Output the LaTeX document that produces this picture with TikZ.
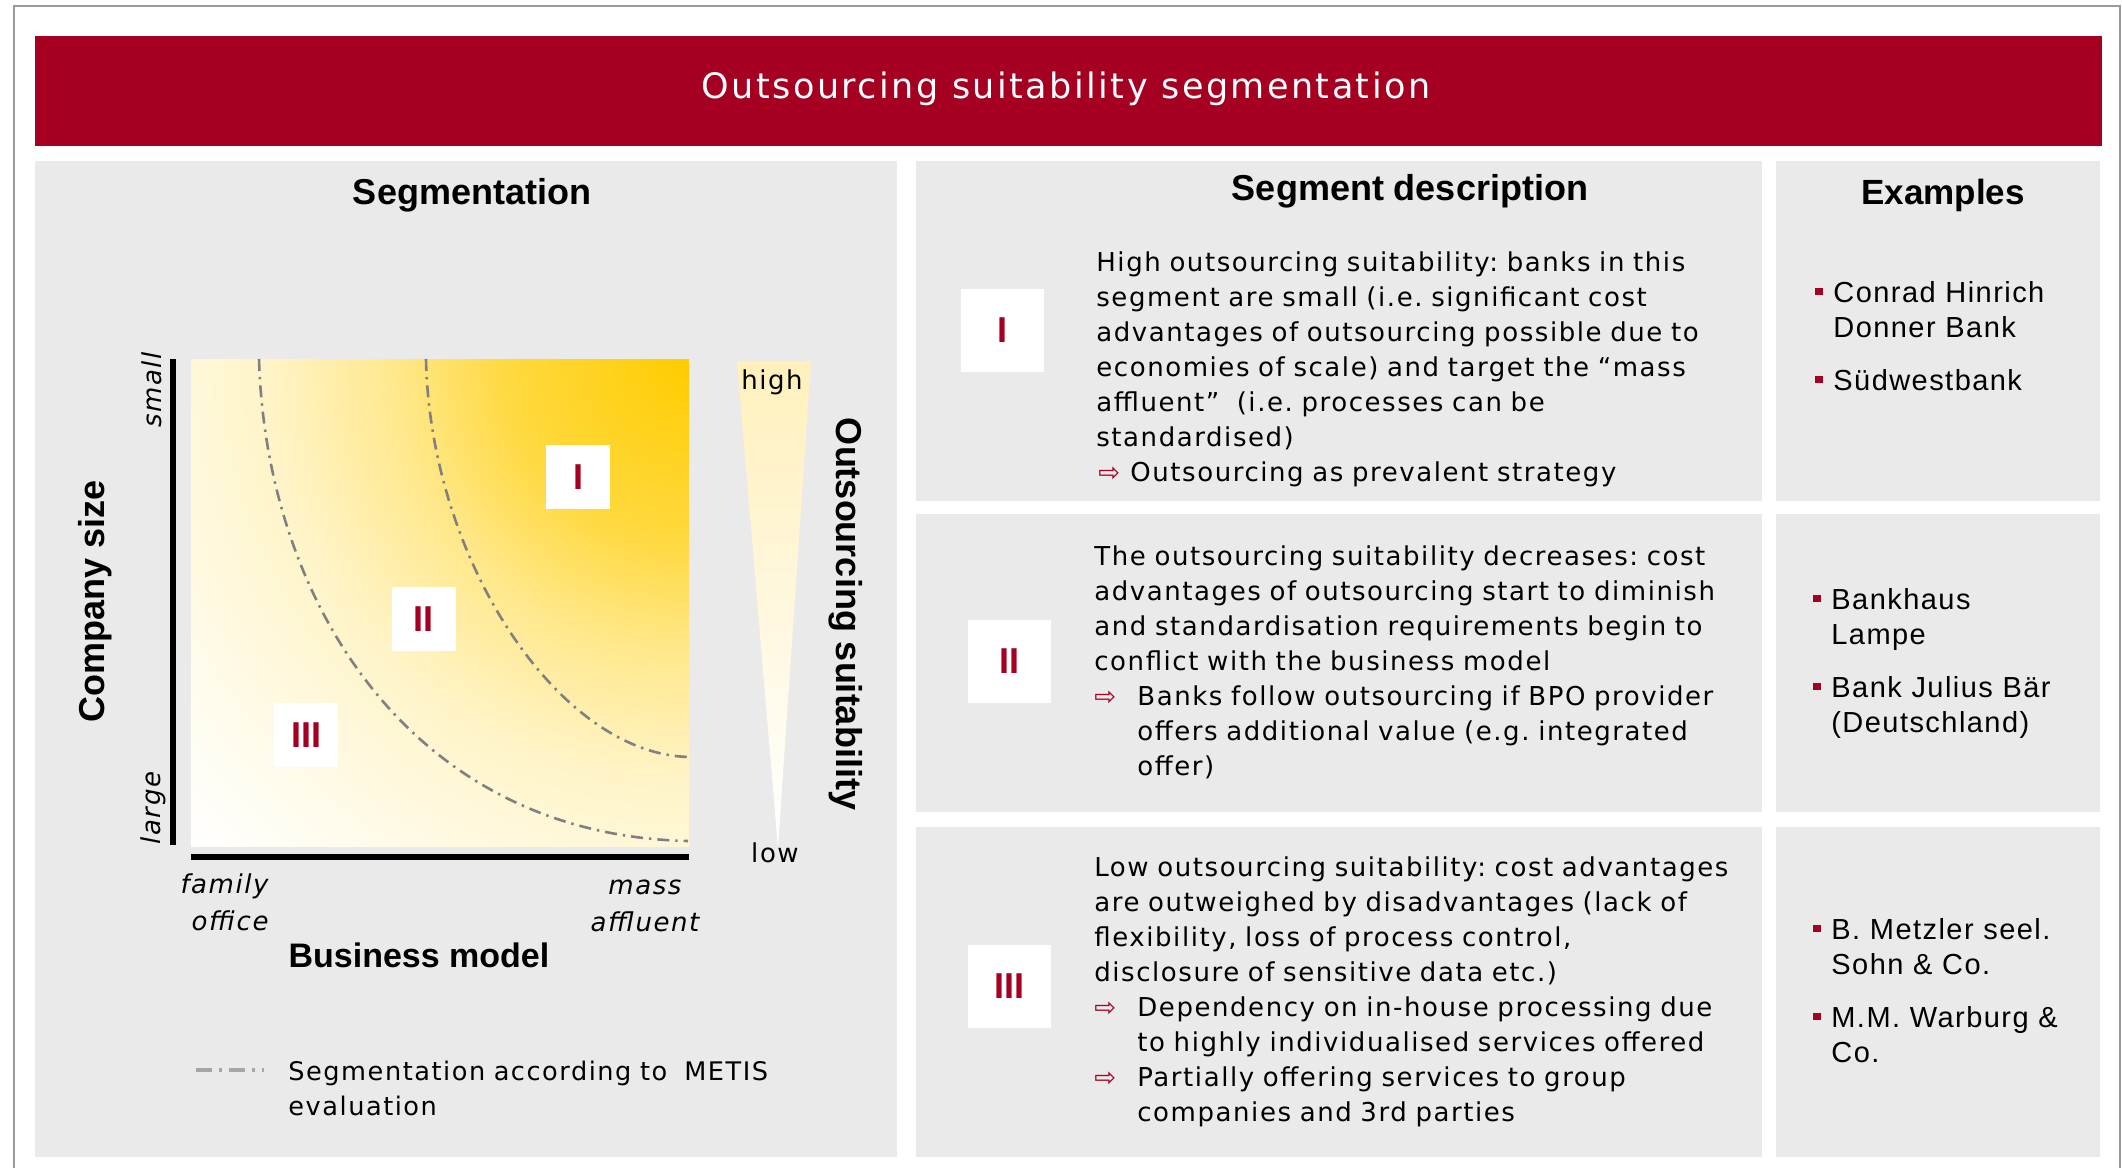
\documentclass[tikz,border=0pt]{standalone}
\usepackage{fontspec}
\setmainfont{DejaVu Sans}[LetterSpace=6]
\newfontfamily\headfont{Liberation Sans}
\newfontfamily\titlefont{DejaVu Sans}[LetterSpace=7]
\newfontfamily\exfont{Liberation Sans}[LetterSpace=5]
\newfontfamily\arrowfont{DejaVu Sans}
\usetikzlibrary{positioning}
\frenchspacing

\definecolor{segred}{HTML}{A50021}
\definecolor{segpanel}{HTML}{EAEAEA}
\definecolor{seggold}{HTML}{FFCC00}
\definecolor{segframe}{HTML}{9A9A9A}
\definecolor{seggray}{HTML}{808080}
\definecolor{leggray}{HTML}{A6A6A6}
\definecolor{segwedge}{HTML}{FFF0BC}

\pgfdeclareradialshading{segglow}{\pgfpoint{0bp}{0bp}}{%
  color(0bp)=(seggold); color(6.5bp)=(seggold!75!white);
  color(10.5bp)=(seggold!45!white); color(15bp)=(seggold!22!white);
  color(20.5bp)=(seggold!8!white); color(25bp)=(white); color(50bp)=(white)}

\newcommand{\segarrow}{{\arrowfont\color{segred}⇨}}

\begin{document}
\begin{tikzpicture}[x=0.5pt,y=-0.5pt,
    numbox/.style={fill=white,text=segred,inner sep=0pt,minimum size=#1,
      font=\headfont\bfseries\fontsize{18}{18}\selectfont},
    seghead/.style={anchor=base,inner sep=0pt,font=\headfont\bfseries\fontsize{18}{21}\selectfont},
    segbody/.style={anchor=base west,inner sep=0pt,text width=330pt,align=left,
      font=\fontsize{13}{17.5}\selectfont},
    exitem/.style={anchor=base west,inner sep=0pt,text width=140pt,align=left,
      font=\exfont\fontsize{14.5}{17.5}\selectfont},
    exbullet/.style={fill=segred,inner sep=0pt,minimum width=4pt,minimum height=3.5pt},
    axislabel/.style={inner sep=0pt,font=\itshape\fontsize{13}{18.5}\selectfont},
    segcurve/.style={draw=seggray,line width=1.3pt,dash pattern=on 6pt off 3pt on 1.2pt off 3pt}]

    \useasboundingbox (0,0) rectangle (2122,1168);
    \fill[white] (0,0) rectangle (2122,1168);
    \draw[segframe,line width=1pt] (14,1168) |- (2120,6) -- (2120,1168);

    % title bar
    \fill[segred] (35,36) rectangle (2102,146);
    \node[anchor=base,inner sep=0pt,text=white,font=\titlefont\fontsize{17.5}{18}\selectfont]
        (title) at (1066,98) {Outsourcing suitability segmentation};

    % panels
    \fill[segpanel] (35,161) rectangle (897,1157);
    \foreach \ya/\yb in {161/501,514/812,827/1157} {
        \fill[segpanel] (916,\ya) rectangle (1762,\yb);
        \fill[segpanel] (1776,\ya) rectangle (2100,\yb);
    }

    \node[seghead] (hseg) at (472,204) {Segmentation};
    \node[seghead] (hdesc) at (1410,200) {Segment description};
    \node[seghead,font=\headfont\bfseries\fontsize{17.5}{21}\selectfont] (hex) at (1943,204) {Examples};

    % segmentation chart
    \begin{scope}
        \clip (191,359) rectangle (689,846);
        \shade[shading=segglow] (689,359) circle (700);
    \end{scope}
    \draw[segcurve] (259,359) .. controls (266,600) and (410,835) .. (688,841);
    \draw[segcurve] (426,359) .. controls (430,560) and (560,757) .. (692,757);
    \node[numbox=32pt] (chI) at (578,477) {I};
    \node[numbox=32pt] (chII) at (423.5,619) {II};
    \node[numbox=32pt] (chIII) at (306,735) {III};

    \draw[line width=3pt] (173,359) -- (173,845);
    \draw[line width=3pt] (191,857) -- (689,857);
    \node[axislabel,rotate=90] (small) at (152,390) {small};
    \node[axislabel,rotate=90] (large) at (153,808) {large};
    \node[rotate=90,inner sep=0pt,font=\headfont\bfseries\fontsize{18}{18}\selectfont]
        (compsize) at (95,601) {Company size};
    \node[axislabel,anchor=base east,text width=60pt,align=right] (famoff) at (269,893) {family\\office};
    \node[axislabel,anchor=base,text width=60pt,align=center] (massaff) at (645,894) {mass\\affluent};
    \node[seghead,font=\headfont\bfseries\fontsize{17}{21}\selectfont] (busmodel) at (419,967) {Business model};

    % suitability wedge
    \shade[top color=segwedge,bottom color=white] (737,361) -- (811,361) -- (778,848) -- cycle;
    \node[anchor=base,inner sep=0pt,font=\fontsize{13}{14}\selectfont] (high) at (772,389) {high};
    \node[anchor=base,inner sep=0pt,font=\fontsize{13}{14}\selectfont] (low) at (775,862) {low};
    \node[rotate=-90,inner sep=0pt,font=\headfont\bfseries\fontsize{18}{18}\selectfont]
        (outsuit) at (846,614) {Outsourcing suitability};

    % legend
    \coordinate (legA) at (196,1070);
    \coordinate (legB) at (264,1070);
    \draw[leggray,line width=2pt,dash pattern=on 8pt off 3.5pt on 1.5pt off 3.5pt] (legA) -- (legB);
    \node[segbody,font=\fontsize{12.8}{17.5}\selectfont] (legtext) at (288,1080)
        {Segmentation according to \ METIS\\evaluation};

    % segment descriptions
    \foreach \n/\x/\y/\t in {numI/1002.5/330.5/I,numII/1009.5/661.5/II,numIII/1009/986.5/III}
        \node[numbox=41.5pt] (\n) at (\x,\y) {\t};

    \node[segbody] (descI) at (1096,271) {High outsourcing suitability: banks in this\\
        segment are small (i.e. significant cost\\advantages of outsourcing possible due to\\
        economies of scale) and target the “mass\\affluent” \ (i.e. processes can be\\standardised)};
    \node[segbody,text width=20pt] (arrI) at (1098,481) {\segarrow};
    \node[segbody] (itemI) at (1130,481) {Outsourcing as prevalent strategy};

    \node[segbody] (descII) at (1094,565) {The outsourcing suitability decreases: cost\\
        advantages of outsourcing start to diminish\\and standardisation requirements begin to\\
        conflict with the business model};
    \node[segbody,text width=20pt] (arrII) at (1094,705) {\segarrow};
    \node[segbody] (itemII) at (1137,705) {Banks follow outsourcing if BPO provider\\
        offers additional value (e.g. integrated\\offer)};

    \node[segbody] (descIII) at (1094,876) {Low outsourcing suitability: cost advantages\\
        are outweighed by disadvantages (lack of\\flexibility, loss of process control,\\
        disclosure of sensitive data etc.)};
    \node[segbody,text width=20pt] (arrIIIa) at (1094,1016) {\segarrow};
    \node[segbody] (itemIIIa) at (1137,1016) {Dependency on in-house processing due\\
        to highly individualised services offered};
    \node[segbody,text width=20pt] (arrIIIb) at (1094,1086) {\segarrow};
    \node[segbody] (itemIIIb) at (1137,1086) {Partially offering services to group\\
        companies and 3rd parties};

    % examples
    \foreach \n/\x/\y/\t in {exA/1833/302/{Conrad Hinrich\\Donner Bank},exB/1833/390/Südwestbank,
        exC/1831/609/{Bankhaus\\Lampe},exD/1831/697/{Bank Julius Bär\\(Deutschland)},
        exE/1831/939/{B. Metzler seel.\\Sohn \& Co.},exF/1831/1027/{M.M. Warburg \&\\Co.}} {
        \node[exitem] (\n) at (\x,\y) {\t};
        \node[exbullet] (\n-b) at ([xshift=-7pt,yshift=5.5pt]\n.base west) {};
    }
\end{tikzpicture}
\end{document}
